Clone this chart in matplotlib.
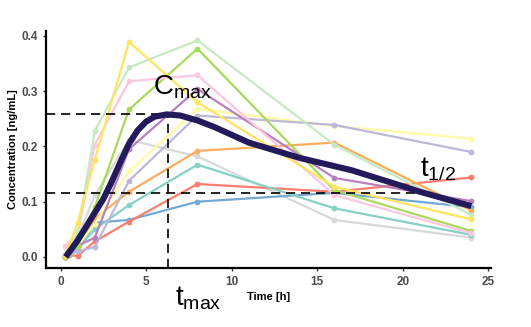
import matplotlib
matplotlib.use("Agg")
import matplotlib.pyplot as plt

plt.rcParams["font.family"] = ["Liberation Sans", "DejaVu Sans"]
plt.rcParams["mathtext.fontset"] = "custom"
plt.rcParams["mathtext.rm"] = "Liberation Sans"
plt.rcParams["mathtext.it"] = "Liberation Sans"

# sampling times (h) shared by all subjects
times = [0.25, 0.5, 1, 2, 4, 8, 16, 24]

# concentration per subject (ng/mL)
subj_gray = [0.0, 0.005, 0.035, 0.112, 0.212, 0.182, 0.067, 0.035]
subj_blue = [0.0, 0.005, 0.01, 0.062, 0.067, 0.100, 0.116, 0.090]
subj_red = [0.0, 0.003, 0.002, 0.028, 0.064, 0.132, 0.118, 0.144]
subj_teal = [0.0, 0.005, 0.015, 0.050, 0.094, 0.167, 0.088, 0.040]
subj_orange = [0.0, 0.005, 0.02, 0.070, 0.118, 0.192, 0.207, 0.084]
subj_lyellow = [0.0, 0.005, 0.02, 0.060, 0.155, 0.268, 0.237, 0.214]
subj_lpurple = [0.0, 0.004, 0.01, 0.018, 0.138, 0.256, 0.239, 0.190]
subj_purple = [0.0, 0.005, 0.02, 0.035, 0.195, 0.304, 0.143, 0.101]
subj_green = [0.0, 0.005, 0.02, 0.090, 0.267, 0.377, 0.121, 0.047]
subj_pink = [0.02, 0.025, 0.04, 0.203, 0.318, 0.329, 0.112, 0.043]
subj_lgreen = [0.005, 0.01, 0.045, 0.228, 0.343, 0.392, 0.203, 0.076]
subj_yellow = [0.002, 0.02, 0.062, 0.176, 0.389, 0.280, 0.127, 0.068]

subjects = [
    (subj_gray, "#d9d9d9"),
    (subj_blue, "#74a9d3"),
    (subj_red, "#fa7f6e"),
    (subj_teal, "#86d1c3"),
    (subj_orange, "#fdad5c"),
    (subj_lyellow, "#fdfca4"),
    (subj_lpurple, "#bcb8da"),
    (subj_purple, "#b880bd"),
    (subj_green, "#aad95e"),
    (subj_pink, "#fbc7e1"),
    (subj_lgreen, "#c8e9c1"),
    (subj_yellow, "#ffe45e"),
]

# population mean curve
mean_t = [0.3, 1.0, 1.5, 2.0, 2.5, 3.0, 3.5, 4.0, 4.5, 5.0, 5.5, 6.2, 7.0,
          8.0, 9.0, 11.0, 14.0, 17.0, 20.0, 21.0, 24.0]
mean_c = [0.0, 0.03, 0.055, 0.08, 0.105, 0.137, 0.172, 0.205, 0.229, 0.245,
          0.254, 0.258, 0.256, 0.247, 0.235, 0.207, 0.179, 0.157, 0.128,
          0.118, 0.092]

t_max = 6.26
c_max = 0.258
c_half = 0.116
t_half_end = 20.9

fig = plt.figure(figsize=(5.31, 3.27), dpi=100)
ax = fig.add_axes([46 / 531, 1 - 268 / 327, 445 / 531, 237 / 327])

for conc, col in subjects:
    ax.plot(times, conc, color=col, lw=1.6, marker="o", ms=4.2,
            markeredgewidth=0, solid_joinstyle="round")

dash = dict(color="black", lw=1.2, ls=(0, (5.5, 3.5)))
ax.plot([-0.85, t_max], [c_max, c_max], **dash)
ax.plot([t_max, t_max], [-0.02, c_max], **dash)
ax.plot([-0.85, t_half_end], [c_half, c_half], **dash)

ax.plot(mean_t, mean_c, color="#221a5a", lw=4.4, solid_joinstyle="round",
        solid_capstyle="butt")

ax.text(5.4, 0.307, r"C$_{\mathrm{max}}$", fontsize=20, va="center", ha="left")
ax.text(6.7, -0.074, r"t$_{\mathrm{max}}$", fontsize=20, va="center",
        ha="left", clip_on=False)
ax.text(21.0, 0.158, r"t$_{\mathrm{1/2}}$", fontsize=20, va="center", ha="left")

ax.set_xlim(-0.85, 25.15)
ax.set_ylim(-0.02, 0.409)
ax.set_xticks([0, 5, 10, 15, 20, 25])
ax.set_yticks([0.0, 0.1, 0.2, 0.3, 0.4])
ax.set_yticklabels(["0.0", "0.1", "0.2", "0.3", "0.4"])

for side in ["top", "right"]:
    ax.spines[side].set_visible(False)
for side in ["left", "bottom"]:
    ax.spines[side].set_linewidth(1.6)
    ax.spines[side].set_color("black")

ax.tick_params(axis="both", length=2.5, width=1.0, color="#333333",
               labelsize=8.5, labelcolor="#4d4d4d", pad=3)
for lab in ax.get_xticklabels() + ax.get_yticklabels():
    lab.set_fontweight("bold")

ax.set_xlabel("Time [h]", fontsize=8, fontweight="bold", labelpad=3)
ax.set_ylabel("Concentration [ng/mL]", fontsize=8, fontweight="bold", labelpad=3)

fig.savefig("out.png", dpi=100)
